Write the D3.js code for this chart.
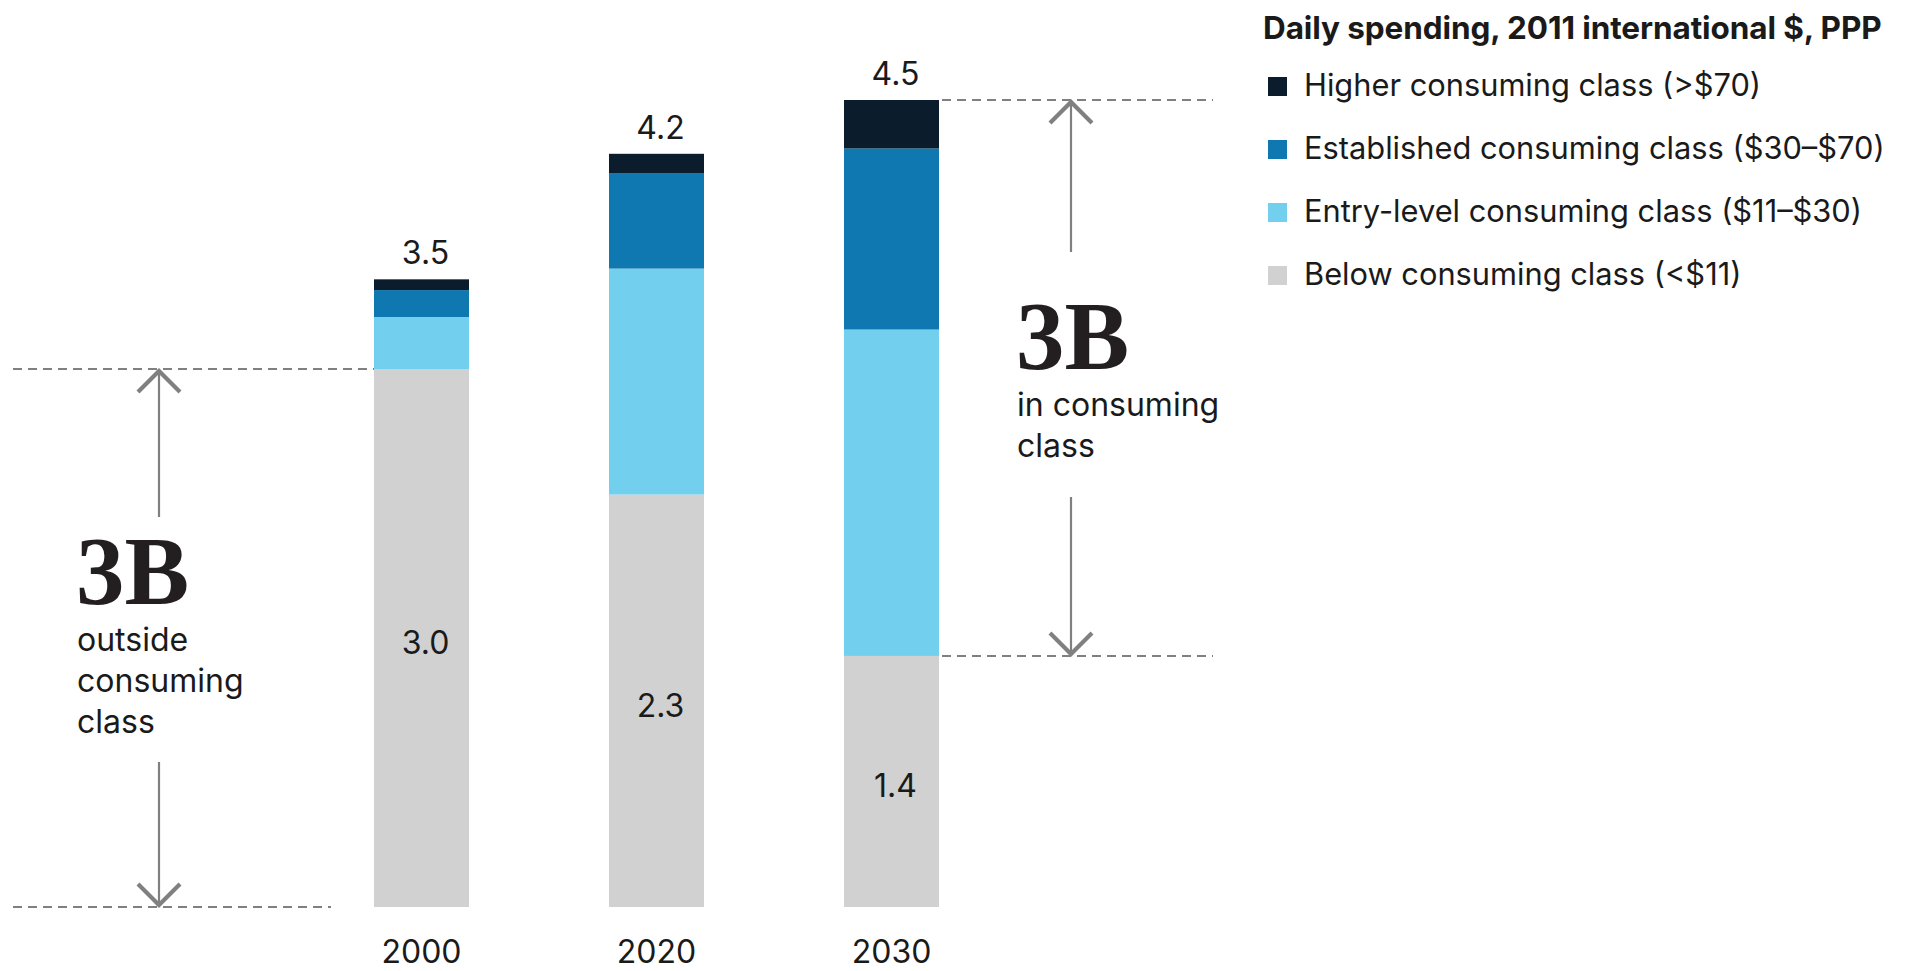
<!DOCTYPE html>
<html>
<head>
<meta charset="utf-8">
<script src="https://cdn.jsdelivr.net/npm/d3@7"></script>
<style>
  html, body { margin: 0; padding: 0; background: #ffffff; }
  svg { display: block; }
  .sans { font-family: Inter, "Liberation Sans", Arial, sans-serif; fill: #1a1a1a; }
  .big { font-family: "Liberation Serif", "DejaVu Serif", serif; font-weight: bold; fill: #231f20; }
</style>
</head>
<body>
<script>
// Population by daily spending band, billions of people
const years = ["2000", "2020", "2030"];
const below = [3.0, 2.3, 1.4];
const entry = [0.29, 1.26, 1.82];
const established = [0.15, 0.53, 1.01];
const higher = [0.06, 0.11, 0.27];

const seriesKeys = ["below", "entry", "established", "higher"];
const seriesColors = ["#d0d1d0", "#72cfee", "#0f78b0", "#0b1c2c"];
const legendLabels = [
  "Higher consuming class (>$70)",
  "Established consuming class ($30\u2013$70)",
  "Entry-level consuming class ($11\u2013$30)",
  "Below consuming class (<$11)"
];
const legendKeys = ["higher", "established", "entry", "below"];
const legendTitle = "Daily spending, 2011 international $, PPP";

const W = 1906, H = 971;
const rows = years.map((yr, i) => ({
  year: yr, below: below[i], entry: entry[i], established: established[i], higher: higher[i]
}));

const svg = d3.select("body").append("svg").attr("width", W).attr("height", H);

const x = d3.scaleBand().domain(years).range([374, 939]).paddingInner(140 / 235).paddingOuter(0);
const y = d3.scaleLinear().domain([0, 4.5]).range([907, 100]);
const color = d3.scaleOrdinal().domain(seriesKeys).range(seriesColors);

const stacked = d3.stack().keys(seriesKeys)(rows);

// Stacked bars
svg.append("g").selectAll("g").data(stacked).join("g")
  .attr("fill", d => color(d.key))
  .selectAll("rect").data(d => d).join("rect")
  .attr("x", d => x(d.data.year))
  .attr("width", x.bandwidth())
  .attr("y", d => y(d[1]))
  .attr("height", d => y(d[0]) - y(d[1]));

const fmt = d3.format(".1f");
const topLayer = stacked[stacked.length - 1];

// Totals above bars
svg.append("g").selectAll("text").data(topLayer).join("text")
  .attr("class", "sans")
  .attr("x", d => x(d.data.year) + x.bandwidth() / 2 + 4)
  .attr("y", d => y(d[1]) - 15)
  .attr("text-anchor", "middle")
  .attr("font-size", 32)
  .text(d => fmt(d[1]));

// Values of the lowest band inside bars
svg.append("g").selectAll("text").data(stacked[0]).join("text")
  .attr("class", "sans")
  .attr("x", d => x(d.data.year) + x.bandwidth() / 2 + 4)
  .attr("y", d => (y(d[0]) + y(d[1])) / 2 + 16)
  .attr("text-anchor", "middle")
  .attr("font-size", 32)
  .text(d => fmt(d[1] - d[0]));

// Category axis
const xAxis = svg.append("g").attr("transform", `translate(0,${y(0)})`)
  .call(d3.axisBottom(x).tickSize(0).tickPadding(0));
xAxis.select(".domain").remove();
xAxis.selectAll("text")
  .attr("class", "sans")
  .attr("dy", null)
  .attr("y", 56)
  .attr("font-size", 32)
  .style("font-family", "Inter, 'Liberation Sans', Arial, sans-serif")
  .attr("fill", "#1a1a1a");

// Annotation guides
const guide = svg.append("g").attr("stroke", "#808080").attr("fill", "none");
const dash = "9,6";
const first = rows[0], last = rows[rows.length - 1];
const yBelowFirst = Math.round(y(first.below));
const yBase = y(0);
const yTopLast = Math.round(y(d3.sum(seriesKeys, k => last[k])));
const yBelowLast = Math.round(y(last.below));

guide.append("line").attr("x1", 13).attr("x2", x(first.year)).attr("y1", yBelowFirst).attr("y2", yBelowFirst)
  .attr("stroke-width", 2.2).attr("stroke-dasharray", dash);
guide.append("line").attr("x1", 13).attr("x2", 331).attr("y1", yBase).attr("y2", yBase)
  .attr("stroke-width", 2.2).attr("stroke-dasharray", dash);
const rx0 = x(last.year) + x.bandwidth() + 3;
guide.append("line").attr("x1", rx0).attr("x2", 1213).attr("y1", yTopLast).attr("y2", yTopLast)
  .attr("stroke-width", 2.2).attr("stroke-dasharray", dash);
guide.append("line").attr("x1", rx0).attr("x2", 1213).attr("y1", yBelowLast).attr("y2", yBelowLast)
  .attr("stroke-width", 2.2).attr("stroke-dasharray", dash);

function arrow(cx, tipY, endY) {
  const dir = endY > tipY ? 1 : -1; // 1: points up, -1: points down
  guide.append("line").attr("x1", cx).attr("x2", cx).attr("y1", tipY).attr("y2", endY).attr("stroke-width", 2.2);
  guide.append("path")
    .attr("d", `M${cx - 21},${tipY + dir * 23}L${cx},${tipY + dir * 2}L${cx + 21},${tipY + dir * 23}`)
    .attr("stroke-width", 4.2).attr("stroke-linejoin", "miter");
}
arrow(159, yBelowFirst, 517);
arrow(159, yBase, 762);
arrow(1071, yTopLast, 252);
arrow(1071, yBelowLast, 497);

// Callout texts
function callout(x0, yBig, lines) {
  svg.append("text").attr("class", "big").attr("x", x0).attr("y", yBig)
    .attr("font-size", 97).text("3B");
  svg.append("text").attr("class", "sans").attr("font-size", 32)
    .selectAll("tspan").data(lines).join("tspan")
    .attr("x", x0 + 1).attr("y", (d, i) => yBig + 47 + i * 41)
    .text(d => d);
}
callout(76, 604, ["outside", "consuming", "class"]);
callout(1016, 369, ["in consuming", "class"]);

// Legend
const legend = svg.append("g").attr("transform", "translate(1263,0)");
legend.append("text").attr("class", "sans").attr("x", 0).attr("y", 39)
  .attr("font-size", 31.5).attr("font-weight", 700).attr("letter-spacing", -0.1).text(legendTitle);
const item = legend.selectAll("g.item").data(legendKeys).join("g").attr("class", "item")
  .attr("transform", (d, i) => `translate(0,${77 + i * 63})`);
item.append("rect").attr("x", 5).attr("y", 0).attr("width", 19).attr("height", 19)
  .attr("fill", d => color(d));
item.append("text").attr("class", "sans").attr("x", 41).attr("y", 19)
  .attr("font-size", 30.8).text((d, i) => legendLabels[i]);
</script>
</body>
</html>
